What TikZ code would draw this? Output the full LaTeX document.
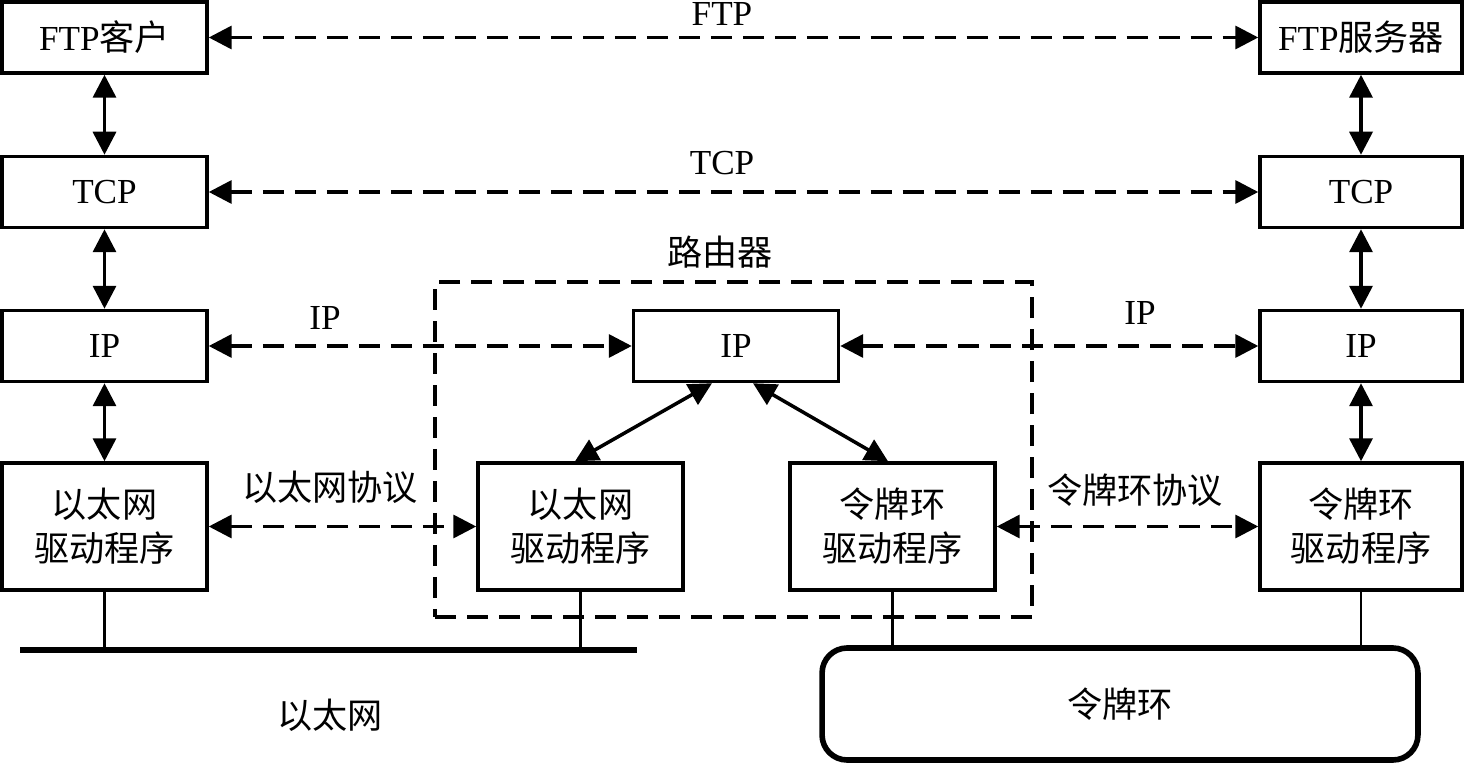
\documentclass[tikz,border=0pt]{standalone}
\usepackage{fontspec}
\setmainfont{Liberation Serif}
\newfontfamily\cjk{Noto Sans CJK SC}
\usetikzlibrary{arrows.meta,calc}
\begin{document}
\begin{tikzpicture}[x=0.02cm,y=-0.02cm,
  font=\fontsize{20}{25}\selectfont,
  >={Triangle[length=0.46cm,width=0.46cm]},
  box/.style={draw,line width=2pt,minimum width=4.1cm,minimum height=1.42cm,inner sep=0pt},
  drv/.style={box,minimum height=2.54cm,align=center},
  vlink/.style={line width=2pt,<->},
  dlink/.style={line width=2pt,dash pattern=on 0.42cm off 0.22cm,<->},
  lbl/.style={inner sep=0pt}]
\useasboundingbox (0,0) rectangle (1466,766);
% router box
\node[draw,dash pattern=on 0.42cm off 0.22cm,line width=1.8pt,minimum width=11.94cm,minimum height=6.7cm,inner sep=0pt] (router) at (733.5,449.5) {};
\node[lbl] (routerlbl) at (720,252) {\cjk{路由器}};
% boxes
\node[box] (ftpc) at (104.5,37.5) {FTP\cjk{客户}};
\node[box,minimum width=4.04cm] (ftps) at (1361,37.5) {FTP\cjk{服务器}};
\node[box] (tcpl) at (104.5,192) {TCP};
\node[box,minimum width=4.04cm] (tcpr) at (1361,192) {TCP};
\node[box] (ipl) at (104.5,346) {IP};
\node[box] (ipm) at (736,346) {IP};
\node[box,minimum width=4.04cm] (ipr) at (1361,346) {IP};
\node[drv] (ethl) at (104.5,526.5) {\cjk{以太网}\\\cjk{驱动程序}};
\node[drv] (ethm) at (580.5,526.5) {\cjk{以太网}\\\cjk{驱动程序}};
\node[drv] (tokm) at (892.5,526.5) {\cjk{令牌环}\\\cjk{驱动程序}};
\node[drv,minimum width=4.04cm] (tokr) at (1361,526.5) {\cjk{令牌环}\\\cjk{驱动程序}};
% vertical links
\draw[vlink] (ftpc.south) -- (tcpl.north);
\draw[vlink] (tcpl.south) -- (ipl.north);
\draw[vlink] (ipl.south) -- (ethl.north);
\draw[vlink] (ftps.south) -- (tcpr.north);
\draw[vlink] (tcpr.south) -- (ipr.north);
\draw[vlink] (ipr.south) -- (tokr.north);
% horizontal dashed links
\draw[dlink] (ftpc.east) -- (ftps.west);
\draw[dlink] (tcpl.east) -- (tcpr.west);
\draw[dlink] (ipl.east) -- (ipm.west);
\draw[dlink] (ipm.east) -- (ipr.west);
\draw[dlink] (ethl.east) -- (ethm.west);
\draw[dlink] (tokm.east) -- (tokr.west);
% diagonal links
\draw[vlink] ([xshift=-0.48cm]ipm.south) -- ([xshift=-0.11cm]ethm.north);
\draw[vlink] ([xshift=0.34cm]ipm.south) -- ([xshift=-0.09cm]tokm.north);
% labels
\node[lbl] (lftp) at (722,14) {FTP};
\node[lbl] (ltcp) at (722,163) {TCP};
\node[lbl] (lip1) at (325,318) {IP};
\node[lbl] (lip2) at (1140,313) {IP};
\node[lbl] (leth) at (330,487) {\cjk{以太网协议}};
\node[lbl] (ltok) at (1135,490) {\cjk{令牌环协议}};
% ethernet
\coordinate (ethA) at (20,650);
\coordinate (ethB) at (637,650);
\draw[line width=3.4pt] (ethA) -- (ethB);
\draw[line width=1.3pt] (ethl.south) -- (ethl.south |- ethA);
\draw[line width=1.3pt] (ethm.south) -- (ethm.south |- ethA);
\node[lbl] (ethnet) at (330,715) {\cjk{以太网}};
% token ring
\node[draw,line width=3.2pt,rounded corners=0.5cm,minimum width=11.92cm,minimum height=2.24cm,inner sep=0pt] (ring) at (1120,704) {\cjk{令牌环}};
\draw[line width=1.3pt] (tokm.south) -- (tokm.south |- ring.north);
\draw[line width=1.3pt] (tokr.south) -- (tokr.south |- ring.north);
\end{tikzpicture}
\end{document}
